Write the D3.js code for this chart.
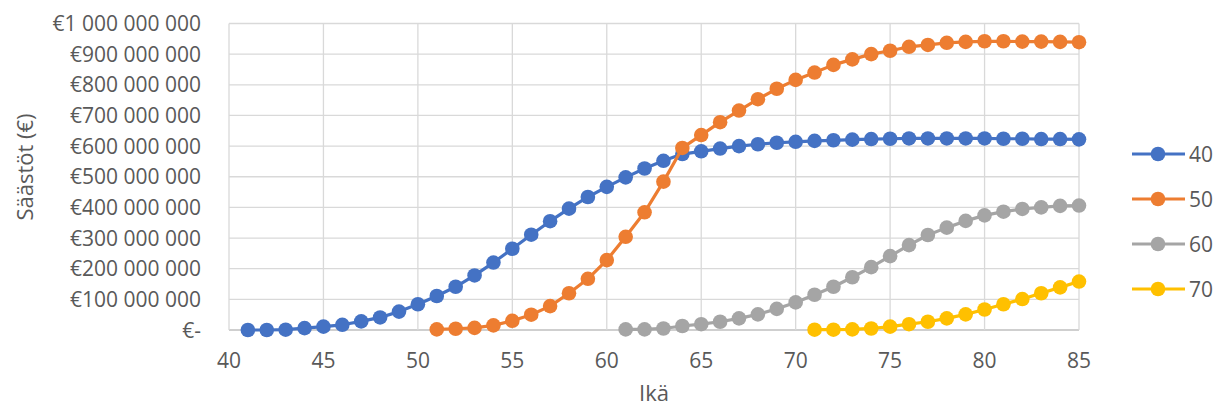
<!DOCTYPE html>
<html><head><meta charset="utf-8">
<script src="https://cdn.jsdelivr.net/npm/d3@7"></script>
<style>body{margin:0;background:#fff}svg{display:block}text{font-family:"Open Sans",sans-serif;fill:#595959}</style>
</head><body><svg id="c" width="1223" height="410"></svg>
<script>
const seriesNames = ["40","50","60","70"];
const startAges = [41, 51, 61, 71];
const s40 = [0,0,1,6,11,17,28,41,60,84,111,141,178,220,265,311,355,396,434,467,498,527,552,574,583,592,600,606,611,614,617,619,621,623,624,625,625,625,625,625,624,624,623,623,622];
const s50 = [2,4,7,15,30,50,78,120,167,228,304,384,484,594,636,678,716,753,787,816,840,865,883,900,911,924,930,937,940,942,942,941,941,940,939];
const s60 = [2,2,5,13,19,27,38,51,69,90,115,141,172,205,241,277,310,334,356,374,386,395,400,405,406];
const s70 = [1,1,2,5,11,19,27,38,51,67,84,101,120,139,158];
const colors = ["#4472C4","#ED7D31","#A5A5A5","#FFC000"];
const xTicks = [40,45,50,55,60,65,70,75,80,85];
const yTicks = [0,100,200,300,400,500,600,700,800,900,1000];
const yTickLabels = ["€-","€100 000 000","€200 000 000","€300 000 000","€400 000 000","€500 000 000","€600 000 000","€700 000 000","€800 000 000","€900 000 000","€1 000 000 000"];
const xTitle = "Ikä", yTitle = "Säästöt (€)";

const allSeries = [s40,s50,s60,s70].map((vals,i)=>vals.map((v,j)=>({age:startAges[i]+j, v})));
const svg = d3.select("#c");
const x = d3.scaleLinear().domain([40,85]).range([229,1079]);
const y = d3.scaleLinear().domain([0,1000]).range([330,23.5]);

svg.append("g").selectAll("line").data(yTicks).join("line")
  .attr("x1",x(40)).attr("x2",x(85)).attr("y1",d=>y(d)).attr("y2",d=>y(d))
  .attr("stroke",d=>d===0?"#bfbfbf":"#d9d9d9").attr("stroke-width",1.3);
svg.append("g").selectAll("line").data(xTicks).join("line")
  .attr("y1",y(0)).attr("y2",y(1000)).attr("x1",d=>x(d)).attr("x2",d=>x(d))
  .attr("stroke","#d9d9d9").attr("stroke-width",1.3);

svg.append("g").selectAll("text").data(yTicks).join("text")
  .attr("x",201).attr("y",d=>y(d)).attr("dy","0.36em").attr("text-anchor","end")
  .style("font-size","21px").text((d,i)=>yTickLabels[i]);
svg.append("g").selectAll("text").data(xTicks).join("text")
  .attr("x",d=>x(d)).attr("y",368).attr("text-anchor","middle")
  .style("font-size","21px").text(d=>d);
svg.append("text").attr("x",x(62.5)).attr("y",401).attr("text-anchor","middle").style("font-size","22px").text(xTitle);
svg.append("text").attr("transform","translate(33,167) rotate(-90)").attr("text-anchor","middle").style("font-size","22px").text(yTitle);

const line = d3.line().x(d=>x(d.age)).y(d=>y(d.v));
allSeries.forEach((data,i)=>{
  const g = svg.append("g");
  g.append("path").datum(data).attr("d",line).attr("fill","none").attr("stroke",colors[i]).attr("stroke-width",3.2).attr("stroke-linejoin","round");
  g.selectAll("circle").data(data).join("circle").attr("cx",d=>x(d.age)).attr("cy",d=>y(d.v)).attr("r",7.3).attr("fill",colors[i]);
});

const leg = svg.append("g");
seriesNames.forEach((n,i)=>{
  const ly = 154 + i*45;
  leg.append("line").attr("x1",1132).attr("x2",1185).attr("y1",ly).attr("y2",ly).attr("stroke",colors[i]).attr("stroke-width",3.2);
  leg.append("circle").attr("cx",1158).attr("cy",ly).attr("r",7.3).attr("fill",colors[i]);
  leg.append("text").attr("x",1189).attr("y",ly).attr("dy","0.36em").style("font-size","21px").text(n);
});
</script></body></html>
